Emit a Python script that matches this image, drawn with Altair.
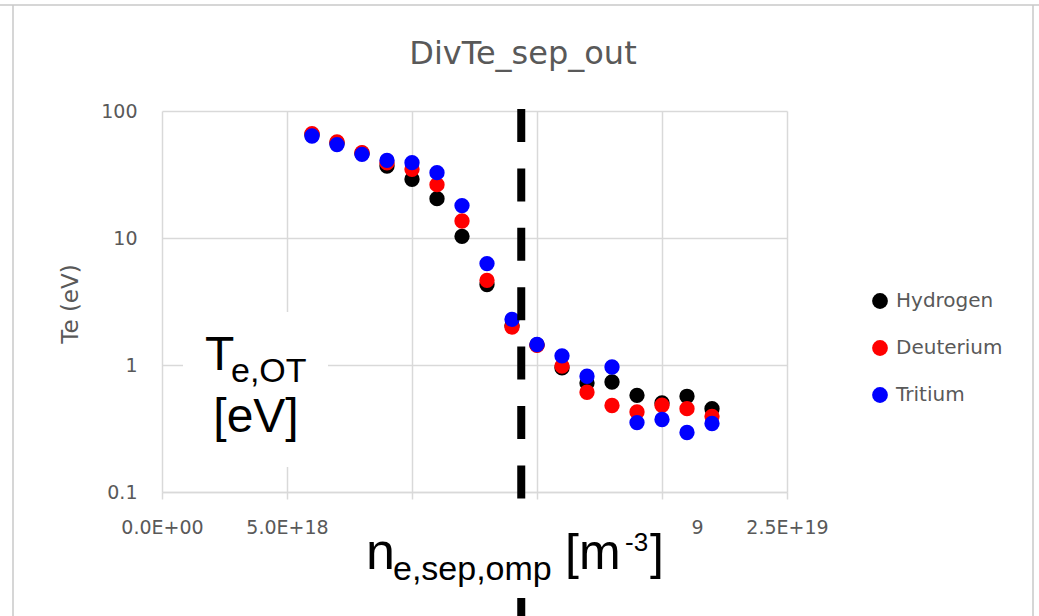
import altair as alt
import pandas as pd

# ---------------- data ----------------
isotopes = ["Hydrogen", "Deuterium", "Tritium"]
isotope_colors = ["#000000", "#ff0000", "#0000ff"]

density = [6e18, 7e18, 8e18, 9e18, 1.0e19, 1.1e19, 1.2e19, 1.3e19, 1.4e19,
           1.5e19, 1.6e19, 1.7e19, 1.8e19, 1.9e19, 2.0e19, 2.1e19, 2.2e19]

hydrogen_te = [65.0, 56.0, 46.5, 36.9, 29.0, 20.4, 10.3, 4.30, 2.05,
               1.44, 0.95, 0.72, 0.735, 0.577, 0.502, 0.567, 0.453]
deuterium_te = [66.4, 57.0, 47.0, 39.0, 34.8, 26.3, 13.6, 4.64, 1.99,
                1.43, 0.98, 0.61, 0.48, 0.427, 0.482, 0.453, 0.394]
tritium_te = [63.6, 54.4, 45.6, 40.9, 39.2, 32.7, 18.0, 6.29, 2.29,
              1.45, 1.18, 0.815, 0.965, 0.352, 0.372, 0.294, 0.346]

separatrix_density = [1.437e19]

x_tick_values = [0, 5e18, 1e19, 1.5e19, 2e19, 2.5e19]
# labels as they remain visible in the reference (the rest is hidden by the overlaid axis title)
x_tick_labels = ["0.0E+00", "5.0E+18", "", "", "9", "2.5E+19"]
y_tick_values = [0.1, 1, 10, 100]
y_tick_labels = ["0.1", "1", "10", "100"]

chart_title = "DivTe_sep_out"
y_title = "Te (eV)"

# ---------------- table ----------------
rows = []
for name, vals in zip(isotopes, [hydrogen_te, deuterium_te, tritium_te]):
    for d, t in zip(density, vals):
        rows.append({"density": d, "te": t, "isotope": name})
df = pd.DataFrame(rows)
sep_df = pd.DataFrame({"density": separatrix_density})

GRID = "#d9d9d9"
GRAY_TXT = "#595959"
W, H = 625, 381
LEFT, TOP = 162, 111

x_label_expr = "[" + ",".join("'%s'" % s for s in x_tick_labels) + "][round(datum.value/5e18)]"
y_label_expr = "[" + ",".join("'%s'" % s for s in y_tick_labels) + "][round(log(datum.value)/LN10)+1]"

x_enc = alt.X(
    "density:Q",
    scale=alt.Scale(domain=[0, 2.5e19], nice=False, zero=False),
    axis=alt.Axis(
        values=x_tick_values, labelExpr=x_label_expr, title=None,
        grid=True, gridColor=GRID, gridWidth=1.5,
        domainColor=GRID, domainWidth=1.5, tickColor=GRID, tickWidth=1.5, tickSize=7,
        labelFont="DejaVu Sans", labelFontSize=19, labelColor=GRAY_TXT,
        labelOffset={"condition": {"test": "round(datum.value/5e18) == 4", "value": 35}, "value": 0},
        labelPadding=19, labelOverlap=False, labelFlush=False, labelBound=False,
    ),
)
y_enc = alt.Y(
    "te:Q",
    scale=alt.Scale(type="log", domain=[0.1, 100], nice=False),
    axis=alt.Axis(
        values=y_tick_values, labelExpr=y_label_expr,
        title=y_title, titleFont="DejaVu Sans", titleFontSize=23, titleFontWeight="normal",
        titleColor=GRAY_TXT, titleAngle=270, titleX=-92, titleY=H / 2 + 2,
        titleAlign="center", titleBaseline="middle",
        grid=True, gridColor=GRID, gridWidth=1.5, ticks=False, domain=False,
        labelFont="DejaVu Sans", labelFontSize=19, labelColor=GRAY_TXT,
        labelPadding=25, labelOverlap=False, labelFlush=False, labelBound=False,
    ),
)

points = alt.Chart(df).mark_circle(size=235, opacity=1).encode(
    x=x_enc,
    y=y_enc,
    color=alt.Color(
        "isotope:N",
        scale=alt.Scale(domain=isotopes, range=isotope_colors),
        legend=alt.Legend(
            title=None, orient="none", legendX=708, legendY=180,
            symbolType="circle", symbolSize=250, symbolStrokeWidth=0,
            labelFont="DejaVu Sans", labelFontSize=20, labelColor=GRAY_TXT,
            labelOffset=6, rowPadding=27, padding=0,
        ),
    ),
)

sep_line = alt.Chart(sep_df).mark_rule(
    color="black", strokeWidth=8, strokeDash=[33, 26.4]
).encode(
    x="density:Q",
    y=alt.value(-2),
    y2=alt.value(616 - TOP + 10),
)

def box(x1, x2, y1, y2):
    return alt.Chart(sep_df).mark_rect(color="white").encode(
        x=alt.value(x1 - LEFT), x2=alt.value(x2 - LEFT),
        y=alt.value(y1 - TOP), y2=alt.value(y2 - TOP),
    )

def label(txt, x, y, size, align="left", font="Liberation Sans", color="black"):
    return alt.Chart(sep_df).mark_text(
        text=txt, font=font, fontSize=size, color=color,
        align=align, baseline="alphabetic",
    ).encode(x=alt.value(x - LEFT), y=alt.value(y - TOP))

def frame_rule(x1, x2, y1, y2):
    return alt.Chart(sep_df).mark_rule(color="#c8c8c8", strokeWidth=1.5).encode(
        x=alt.value(x1 - LEFT), x2=alt.value(x2 - LEFT),
        y=alt.value(y1 - TOP), y2=alt.value(y2 - TOP),
    )

layers = [
    frame_rule(0, 1039, 5, 5),
    frame_rule(13, 13, 5, 640),
    frame_rule(1033, 1033, 5, 640),
    label(chart_title, 523, 64, 32, align="center", font="DejaVu Sans", color=GRAY_TXT),
    points,
    sep_line,
    box(183, 328, 312, 467),
    box(355, 686, 505, 598),
    label("T", 205, 370, 48),
    label("e,OT", 231, 382, 34),
    label("[eV]", 256, 432, 48, align="center"),
    label("n", 366, 569, 52),
    label("e,sep,omp", 393, 580, 34),
    label("[m", 565, 569, 50),
    label("-3", 625, 551, 26),
    label("]", 650, 569, 50),
]

chart = alt.layer(*layers).properties(
    width=W, height=H,
    autosize=alt.AutoSizeParams(type="none"),
    padding={"left": LEFT, "top": TOP, "right": 1039 - LEFT - W, "bottom": 616 - TOP - H},
    background="white",
).configure_view(stroke=None)

chart.save("out.html", embed_options={"renderer": "svg", "actions": False})
